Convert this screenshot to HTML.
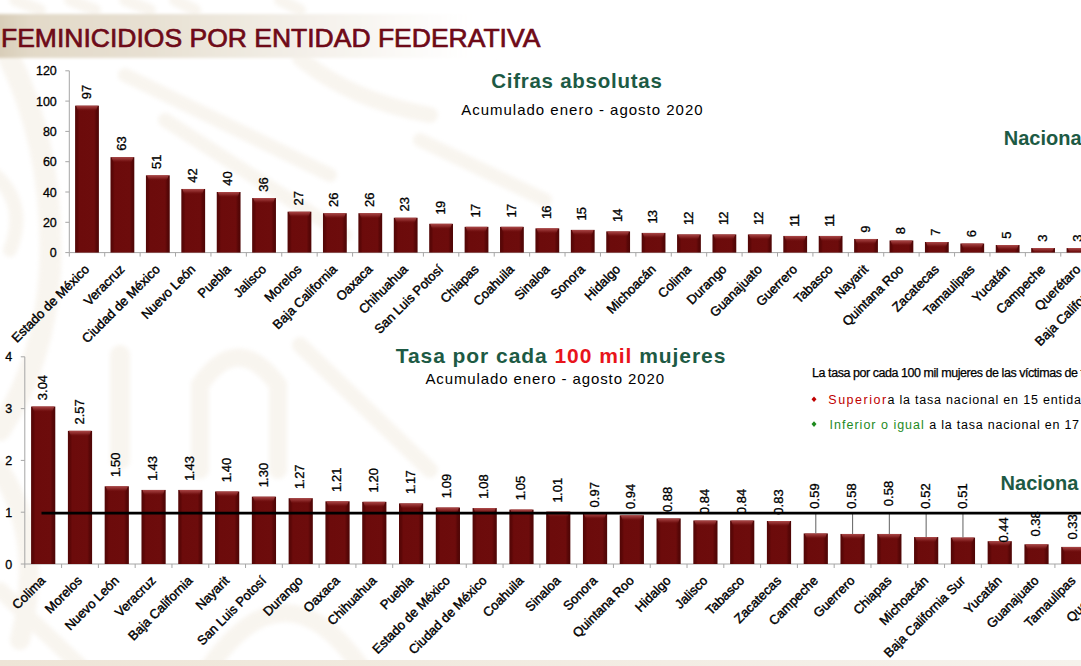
<!DOCTYPE html>
<html><head><meta charset="utf-8">
<style>
html,body{margin:0;padding:0;width:1081px;height:666px;overflow:hidden;background:#fff;}
body{position:relative;font-family:"Liberation Sans", sans-serif;}
#wrap{position:absolute;left:0;top:0;width:1081px;height:666px;overflow:hidden;}
.abs{position:absolute;white-space:nowrap;}
.v,.a{stroke:#000;stroke-width:0.3px;}
.c{stroke:#000;stroke-width:0.4px;}
.t{stroke:#6e0a18;stroke-width:0.7px;}
.lg{stroke:#000;stroke-width:0.25px;}
</style></head><body><div id="wrap">
<svg width="1081" height="666" viewBox="0 0 1081 666" style="position:absolute;left:0;top:0" font-family='"Liberation Sans", sans-serif'>
<defs>
<linearGradient id="bg" x1="0" y1="0" x2="1" y2="0">
<stop offset="0" stop-color="#520707"/><stop offset="0.1" stop-color="#5c0707"/><stop offset="0.18" stop-color="#6c0b0b"/><stop offset="0.8" stop-color="#6d0c0c"/><stop offset="0.9" stop-color="#580707"/><stop offset="1" stop-color="#4e0606"/>
</linearGradient>
<linearGradient id="bt" x1="0" y1="0" x2="0" y2="1">
<stop offset="0" stop-color="#b04c4c" stop-opacity="0.95"/><stop offset="0.5" stop-color="#983535" stop-opacity="0.6"/><stop offset="1" stop-color="#720f0f" stop-opacity="0"/>
</linearGradient>
<linearGradient id="tband" x1="0" y1="0" x2="1" y2="0">
<stop offset="0.009" stop-color="#d8cdb8"/><stop offset="0.037" stop-color="#e2d9c8"/><stop offset="0.147" stop-color="#e7e0d2"/><stop offset="0.284" stop-color="#f3efe8"/><stop offset="0.394" stop-color="#fcfbf9"/><stop offset="0.467" stop-color="#ffffff" stop-opacity="0"/>
</linearGradient>
<linearGradient id="bband" x1="0" y1="0" x2="1" y2="0">
<stop offset="0" stop-color="#eee5d7"/><stop offset="1" stop-color="#f6f2ec"/>
</linearGradient>
<filter id="blur2" x="-5%" y="-50%" width="110%" height="200%"><feGaussianBlur stdDeviation="1.8"/></filter>
<filter id="blur3" x="-20%" y="-20%" width="140%" height="140%"><feGaussianBlur stdDeviation="2"/></filter>
</defs>
<g id="wm" fill="none" stroke="#eee5d6" stroke-linecap="round" opacity="0.38" filter="url(#blur3)">
<path d="M8 55 Q55 150 50 270 Q45 360 0 430" stroke-width="22"/>
<path d="M-5 175 Q28 205 10 250" stroke-width="14"/>
<path d="M0 470 Q45 540 20 640" stroke-width="20"/>
<path d="M125 75 L330 175" stroke-width="14"/>
<path d="M165 120 L345 235" stroke-width="14"/>
<path d="M300 58 Q350 100 430 115" stroke-width="16"/>
<path d="M420 140 L545 200" stroke-width="14"/>
<path d="M120 460 L120 355" stroke-width="20"/>
<path d="M200 470 L200 385 Q238 330 278 385 L278 470" stroke-width="18"/>
<path d="M300 345 L430 470" stroke-width="16"/>
<path d="M210 666 Q285 560 360 666" stroke-width="18"/>
<path d="M0 590 L80 666" stroke-width="16"/>
<path d="M15 0 L40 10 M70 0 L95 10 M125 0 L150 10 M175 0 L195 10 M280 0 L300 10" stroke-width="12"/>
</g>
<rect x="-10" y="14" width="1091" height="44" fill="url(#tband)" filter="url(#blur2)"/>
<rect x="0" y="660" width="1081" height="6" fill="url(#bband)"/>
<text class="t" x="1" y="47" font-size="26.5" fill="#6e0a18">FEMINICIDIOS POR ENTIDAD FEDERATIVA</text>
<text x="576.9" y="87.5" font-size="20.5" font-weight="bold" fill="#1d5a44" text-anchor="middle" letter-spacing="0.75">Cifras absolutas</text>
<text x="582.4" y="114.5" font-size="15" fill="#000" text-anchor="middle" letter-spacing="1">Acumulado enero - agosto 2020</text>
<text x="1003.8" y="144.6" font-size="20" font-weight="bold" fill="#1d5a44">Naciona</text>
<text x="561" y="363.1" font-size="21" font-weight="bold" fill="#1d5a44" text-anchor="middle" letter-spacing="0.95">Tasa por cada <tspan fill="#e8141b">100 mil</tspan> mujeres</text>
<text x="545.2" y="384.2" font-size="15" fill="#000" text-anchor="middle" letter-spacing="0.9">Acumulado enero - agosto 2020</text>
<text x="1000.6" y="489.9" font-size="20" font-weight="bold" fill="#1d5a44">Naciona</text>
<text x="812.1" y="376.5" font-size="12.5" fill="#000" letter-spacing="-0.45" class="lg">La tasa por cada 100 mil mujeres de las víctimas de feminicidio es</text>
<path d="M814 396.5 L816.5 399.3 L814 402 L811.5 399.3Z" fill="#c00000"/>
<text x="828.3" y="404.2" font-size="12.5" fill="#000"><tspan fill="#c00000" letter-spacing="1.5">Superior</tspan><tspan x="887.4" letter-spacing="0.8">a la tasa nacional en 15 entidades</tspan></text>
<path d="M814 421.3 L816.5 424.1 L814 427 L811.5 424.1Z" fill="#1e8a1e"/>
<text x="829.6" y="428.8" font-size="12.5" fill="#000"><tspan fill="#1e8a1e" letter-spacing="1">Inferior o igual</tspan><tspan x="929.3" letter-spacing="0.77">a la tasa nacional en 17 entidades</tspan></text>
<line x1="69.3" y1="70.80" x2="69.3" y2="252.6" stroke="#a6a6a6" stroke-width="1"/>
<line x1="69.3" y1="252.6" x2="1081" y2="252.6" stroke="#a6a6a6" stroke-width="1"/>
<line x1="65.3" y1="252.60" x2="69.3" y2="252.60" stroke="#a6a6a6"/>
<text class="a" x="56.8" y="257.10" font-size="12.5" text-anchor="end">0</text>
<line x1="65.3" y1="222.30" x2="69.3" y2="222.30" stroke="#a6a6a6"/>
<text class="a" x="56.8" y="226.80" font-size="12.5" text-anchor="end">20</text>
<line x1="65.3" y1="192.00" x2="69.3" y2="192.00" stroke="#a6a6a6"/>
<text class="a" x="56.8" y="196.50" font-size="12.5" text-anchor="end">40</text>
<line x1="65.3" y1="161.70" x2="69.3" y2="161.70" stroke="#a6a6a6"/>
<text class="a" x="56.8" y="166.20" font-size="12.5" text-anchor="end">60</text>
<line x1="65.3" y1="131.40" x2="69.3" y2="131.40" stroke="#a6a6a6"/>
<text class="a" x="56.8" y="135.90" font-size="12.5" text-anchor="end">80</text>
<line x1="65.3" y1="101.10" x2="69.3" y2="101.10" stroke="#a6a6a6"/>
<text class="a" x="56.8" y="105.60" font-size="12.5" text-anchor="end">100</text>
<line x1="65.3" y1="70.80" x2="69.3" y2="70.80" stroke="#a6a6a6"/>
<text class="a" x="56.8" y="75.30" font-size="12.5" text-anchor="end">120</text>
<rect x="75.10" y="105.65" width="23.80" height="146.95" fill="url(#bg)"/><path d="M76.10 105.65 H97.90 L95.90 111.15 H78.10 Z" fill="url(#bt)"/>
<line x1="69.30" y1="252.6" x2="69.30" y2="256.6" stroke="#a6a6a6"/>
<text class="v" transform="translate(90.60,99.35) rotate(-90)" font-size="13" dx="0 0">97</text>
<text class="c" transform="translate(90.00,270.10) rotate(-45)" font-size="13" text-anchor="end">Estado de México</text>
<rect x="110.51" y="157.16" width="23.80" height="95.44" fill="url(#bg)"/><path d="M111.51 157.16 H133.31 L131.31 162.66 H113.51 Z" fill="url(#bt)"/>
<line x1="104.71" y1="252.6" x2="104.71" y2="256.6" stroke="#a6a6a6"/>
<text class="v" transform="translate(126.01,150.85) rotate(-90)" font-size="13" dx="0 0">63</text>
<text class="c" transform="translate(125.41,270.10) rotate(-45)" font-size="13" text-anchor="end">Veracruz</text>
<rect x="145.93" y="175.33" width="23.80" height="77.27" fill="url(#bg)"/><path d="M146.93 175.33 H168.73 L166.73 180.83 H148.93 Z" fill="url(#bt)"/>
<line x1="140.12" y1="252.6" x2="140.12" y2="256.6" stroke="#a6a6a6"/>
<text class="v" transform="translate(161.42,169.03) rotate(-90)" font-size="13" dx="0 0">51</text>
<text class="c" transform="translate(160.82,270.10) rotate(-45)" font-size="13" text-anchor="end">Ciudad de México</text>
<rect x="181.33" y="188.97" width="23.80" height="63.63" fill="url(#bg)"/><path d="M182.33 188.97 H204.13 L202.13 194.47 H184.33 Z" fill="url(#bt)"/>
<line x1="175.53" y1="252.6" x2="175.53" y2="256.6" stroke="#a6a6a6"/>
<text class="v" transform="translate(196.83,182.67) rotate(-90)" font-size="13" dx="0 0">42</text>
<text class="c" transform="translate(196.23,270.10) rotate(-45)" font-size="13" text-anchor="end">Nuevo León</text>
<rect x="216.75" y="192.00" width="23.80" height="60.60" fill="url(#bg)"/><path d="M217.75 192.00 H239.55 L237.55 197.50 H219.75 Z" fill="url(#bt)"/>
<line x1="210.94" y1="252.6" x2="210.94" y2="256.6" stroke="#a6a6a6"/>
<text class="v" transform="translate(232.24,185.70) rotate(-90)" font-size="13" dx="0 0">40</text>
<text class="c" transform="translate(231.64,270.10) rotate(-45)" font-size="13" text-anchor="end">Puebla</text>
<rect x="252.15" y="198.06" width="23.80" height="54.54" fill="url(#bg)"/><path d="M253.15 198.06 H274.95 L272.95 203.56 H255.15 Z" fill="url(#bt)"/>
<line x1="246.35" y1="252.6" x2="246.35" y2="256.6" stroke="#a6a6a6"/>
<text class="v" transform="translate(267.66,191.76) rotate(-90)" font-size="13" dx="0 0">36</text>
<text class="c" transform="translate(267.06,270.10) rotate(-45)" font-size="13" text-anchor="end">Jalisco</text>
<rect x="287.56" y="211.69" width="23.80" height="40.90" fill="url(#bg)"/><path d="M288.56 211.69 H310.37 L308.37 217.19 H290.56 Z" fill="url(#bt)"/>
<line x1="281.76" y1="252.6" x2="281.76" y2="256.6" stroke="#a6a6a6"/>
<text class="v" transform="translate(303.06,205.39) rotate(-90)" font-size="13" dx="0 0">27</text>
<text class="c" transform="translate(302.46,270.10) rotate(-45)" font-size="13" text-anchor="end">Morelos</text>
<rect x="322.97" y="213.21" width="23.80" height="39.39" fill="url(#bg)"/><path d="M323.97 213.21 H345.77 L343.77 218.71 H325.97 Z" fill="url(#bt)"/>
<line x1="317.17" y1="252.6" x2="317.17" y2="256.6" stroke="#a6a6a6"/>
<text class="v" transform="translate(338.48,206.91) rotate(-90)" font-size="13" dx="0 0">26</text>
<text class="c" transform="translate(337.88,270.10) rotate(-45)" font-size="13" text-anchor="end">Baja California</text>
<rect x="358.38" y="213.21" width="23.80" height="39.39" fill="url(#bg)"/><path d="M359.38 213.21 H381.19 L379.19 218.71 H361.38 Z" fill="url(#bt)"/>
<line x1="352.58" y1="252.6" x2="352.58" y2="256.6" stroke="#a6a6a6"/>
<text class="v" transform="translate(373.88,206.91) rotate(-90)" font-size="13" dx="0 0">26</text>
<text class="c" transform="translate(373.28,270.10) rotate(-45)" font-size="13" text-anchor="end">Oaxaca</text>
<rect x="393.79" y="217.75" width="23.80" height="34.84" fill="url(#bg)"/><path d="M394.79 217.75 H416.59 L414.59 223.25 H396.79 Z" fill="url(#bt)"/>
<line x1="387.99" y1="252.6" x2="387.99" y2="256.6" stroke="#a6a6a6"/>
<text class="v" transform="translate(409.30,211.45) rotate(-90)" font-size="13" dx="0 0">23</text>
<text class="c" transform="translate(408.69,270.10) rotate(-45)" font-size="13" text-anchor="end">Chihuahua</text>
<rect x="429.20" y="223.81" width="23.80" height="28.78" fill="url(#bg)"/><path d="M430.20 223.81 H452.00 L450.00 229.31 H432.20 Z" fill="url(#bt)"/>
<line x1="423.40" y1="252.6" x2="423.40" y2="256.6" stroke="#a6a6a6"/>
<text class="v" transform="translate(444.70,214.51) rotate(-90)" font-size="13" dx="0 -0.8">19</text>
<text class="c" transform="translate(444.10,270.10) rotate(-45)" font-size="13" text-anchor="end">San Luis Potosí</text>
<rect x="464.62" y="226.84" width="23.80" height="25.75" fill="url(#bg)"/><path d="M465.62 226.84 H487.42 L485.42 232.34 H467.62 Z" fill="url(#bt)"/>
<line x1="458.81" y1="252.6" x2="458.81" y2="256.6" stroke="#a6a6a6"/>
<text class="v" transform="translate(480.12,217.54) rotate(-90)" font-size="13" dx="0 -0.8">17</text>
<text class="c" transform="translate(479.51,270.10) rotate(-45)" font-size="13" text-anchor="end">Chiapas</text>
<rect x="500.02" y="226.84" width="23.80" height="25.75" fill="url(#bg)"/><path d="M501.02 226.84 H522.82 L520.82 232.34 H503.02 Z" fill="url(#bt)"/>
<line x1="494.22" y1="252.6" x2="494.22" y2="256.6" stroke="#a6a6a6"/>
<text class="v" transform="translate(515.52,217.54) rotate(-90)" font-size="13" dx="0 -0.8">17</text>
<text class="c" transform="translate(514.92,270.10) rotate(-45)" font-size="13" text-anchor="end">Coahuila</text>
<rect x="535.43" y="228.36" width="23.80" height="24.24" fill="url(#bg)"/><path d="M536.43 228.36 H558.23 L556.23 233.86 H538.43 Z" fill="url(#bt)"/>
<line x1="529.63" y1="252.6" x2="529.63" y2="256.6" stroke="#a6a6a6"/>
<text class="v" transform="translate(550.93,219.06) rotate(-90)" font-size="13" dx="0 -0.8">16</text>
<text class="c" transform="translate(550.33,270.10) rotate(-45)" font-size="13" text-anchor="end">Sinaloa</text>
<rect x="570.84" y="229.88" width="23.80" height="22.72" fill="url(#bg)"/><path d="M571.84 229.88 H593.64 L591.64 235.38 H573.84 Z" fill="url(#bt)"/>
<line x1="565.04" y1="252.6" x2="565.04" y2="256.6" stroke="#a6a6a6"/>
<text class="v" transform="translate(586.34,220.57) rotate(-90)" font-size="13" dx="0 -0.8">15</text>
<text class="c" transform="translate(585.74,270.10) rotate(-45)" font-size="13" text-anchor="end">Sonora</text>
<rect x="606.25" y="231.39" width="23.80" height="21.21" fill="url(#bg)"/><path d="M607.25 231.39 H629.05 L627.05 236.89 H609.25 Z" fill="url(#bt)"/>
<line x1="600.45" y1="252.6" x2="600.45" y2="256.6" stroke="#a6a6a6"/>
<text class="v" transform="translate(621.75,222.09) rotate(-90)" font-size="13" dx="0 -0.8">14</text>
<text class="c" transform="translate(621.15,270.10) rotate(-45)" font-size="13" text-anchor="end">Hidalgo</text>
<rect x="641.66" y="232.91" width="23.80" height="19.70" fill="url(#bg)"/><path d="M642.66 232.91 H664.46 L662.46 238.41 H644.66 Z" fill="url(#bt)"/>
<line x1="635.86" y1="252.6" x2="635.86" y2="256.6" stroke="#a6a6a6"/>
<text class="v" transform="translate(657.16,223.60) rotate(-90)" font-size="13" dx="0 -0.8">13</text>
<text class="c" transform="translate(656.56,270.10) rotate(-45)" font-size="13" text-anchor="end">Michoacán</text>
<rect x="677.07" y="234.42" width="23.80" height="18.18" fill="url(#bg)"/><path d="M678.07 234.42 H699.87 L697.87 239.92 H680.07 Z" fill="url(#bt)"/>
<line x1="671.27" y1="252.6" x2="671.27" y2="256.6" stroke="#a6a6a6"/>
<text class="v" transform="translate(692.57,225.12) rotate(-90)" font-size="13" dx="0 -0.8">12</text>
<text class="c" transform="translate(691.97,270.10) rotate(-45)" font-size="13" text-anchor="end">Colima</text>
<rect x="712.48" y="234.42" width="23.80" height="18.18" fill="url(#bg)"/><path d="M713.48 234.42 H735.28 L733.28 239.92 H715.48 Z" fill="url(#bt)"/>
<line x1="706.68" y1="252.6" x2="706.68" y2="256.6" stroke="#a6a6a6"/>
<text class="v" transform="translate(727.98,225.12) rotate(-90)" font-size="13" dx="0 -0.8">12</text>
<text class="c" transform="translate(727.38,270.10) rotate(-45)" font-size="13" text-anchor="end">Durango</text>
<rect x="747.89" y="234.42" width="23.80" height="18.18" fill="url(#bg)"/><path d="M748.89 234.42 H770.69 L768.69 239.92 H750.89 Z" fill="url(#bt)"/>
<line x1="742.09" y1="252.6" x2="742.09" y2="256.6" stroke="#a6a6a6"/>
<text class="v" transform="translate(763.39,225.12) rotate(-90)" font-size="13" dx="0 -0.8">12</text>
<text class="c" transform="translate(762.79,270.10) rotate(-45)" font-size="13" text-anchor="end">Guanajuato</text>
<rect x="783.30" y="235.94" width="23.80" height="16.66" fill="url(#bg)"/><path d="M784.30 235.94 H806.10 L804.10 241.44 H786.30 Z" fill="url(#bt)"/>
<line x1="777.50" y1="252.6" x2="777.50" y2="256.6" stroke="#a6a6a6"/>
<text class="v" transform="translate(798.80,226.63) rotate(-90)" font-size="13" dx="0 -0.8">11</text>
<text class="c" transform="translate(798.20,270.10) rotate(-45)" font-size="13" text-anchor="end">Guerrero</text>
<rect x="818.71" y="235.94" width="23.80" height="16.66" fill="url(#bg)"/><path d="M819.71 235.94 H841.51 L839.51 241.44 H821.71 Z" fill="url(#bt)"/>
<line x1="812.91" y1="252.6" x2="812.91" y2="256.6" stroke="#a6a6a6"/>
<text class="v" transform="translate(834.21,226.63) rotate(-90)" font-size="13" dx="0 -0.8">11</text>
<text class="c" transform="translate(833.61,270.10) rotate(-45)" font-size="13" text-anchor="end">Tabasco</text>
<rect x="854.12" y="238.97" width="23.80" height="13.63" fill="url(#bg)"/><path d="M855.12 238.97 H876.92 L874.92 244.47 H857.12 Z" fill="url(#bt)"/>
<line x1="848.32" y1="252.6" x2="848.32" y2="256.6" stroke="#a6a6a6"/>
<text class="v" transform="translate(869.62,232.66) rotate(-90)" font-size="13" dx="0">9</text>
<text class="c" transform="translate(869.02,270.10) rotate(-45)" font-size="13" text-anchor="end">Nayarit</text>
<rect x="889.53" y="240.48" width="23.80" height="12.12" fill="url(#bg)"/><path d="M890.53 240.48 H912.33 L910.33 245.98 H892.53 Z" fill="url(#bt)"/>
<line x1="883.73" y1="252.6" x2="883.73" y2="256.6" stroke="#a6a6a6"/>
<text class="v" transform="translate(905.03,234.18) rotate(-90)" font-size="13" dx="0">8</text>
<text class="c" transform="translate(904.43,270.10) rotate(-45)" font-size="13" text-anchor="end">Quintana Roo</text>
<rect x="924.94" y="242.00" width="23.80" height="10.60" fill="url(#bg)"/><path d="M925.94 242.00 H947.74 L945.74 247.50 H927.94 Z" fill="url(#bt)"/>
<line x1="919.14" y1="252.6" x2="919.14" y2="256.6" stroke="#a6a6a6"/>
<text class="v" transform="translate(940.44,235.69) rotate(-90)" font-size="13" dx="0">7</text>
<text class="c" transform="translate(939.84,270.10) rotate(-45)" font-size="13" text-anchor="end">Zacatecas</text>
<rect x="960.35" y="243.51" width="23.80" height="9.09" fill="url(#bg)"/><path d="M961.35 243.51 H983.15 L981.15 249.01 H963.35 Z" fill="url(#bt)"/>
<line x1="954.55" y1="252.6" x2="954.55" y2="256.6" stroke="#a6a6a6"/>
<text class="v" transform="translate(975.85,237.21) rotate(-90)" font-size="13" dx="0">6</text>
<text class="c" transform="translate(975.25,270.10) rotate(-45)" font-size="13" text-anchor="end">Tamaulipas</text>
<rect x="995.76" y="245.03" width="23.80" height="7.57" fill="url(#bg)"/><path d="M996.76 245.03 H1018.56 L1016.56 250.53 H998.76 Z" fill="url(#bt)"/>
<line x1="989.96" y1="252.6" x2="989.96" y2="256.6" stroke="#a6a6a6"/>
<text class="v" transform="translate(1011.26,238.72) rotate(-90)" font-size="13" dx="0">5</text>
<text class="c" transform="translate(1010.66,270.10) rotate(-45)" font-size="13" text-anchor="end">Yucatán</text>
<rect x="1031.17" y="248.06" width="23.80" height="4.54" fill="url(#bg)"/><path d="M1032.17 248.06 H1053.97 L1051.97 252.60 H1034.17 Z" fill="url(#bt)"/>
<line x1="1025.37" y1="252.6" x2="1025.37" y2="256.6" stroke="#a6a6a6"/>
<text class="v" transform="translate(1046.67,241.75) rotate(-90)" font-size="13" dx="0">3</text>
<text class="c" transform="translate(1046.07,270.10) rotate(-45)" font-size="13" text-anchor="end">Campeche</text>
<rect x="1066.59" y="248.06" width="23.80" height="4.54" fill="url(#bg)"/><path d="M1067.59 248.06 H1089.38 L1087.38 252.60 H1069.59 Z" fill="url(#bt)"/>
<line x1="1060.78" y1="252.6" x2="1060.78" y2="256.6" stroke="#a6a6a6"/>
<text class="v" transform="translate(1082.08,241.75) rotate(-90)" font-size="13" dx="0">3</text>
<text class="c" transform="translate(1081.48,270.10) rotate(-45)" font-size="13" text-anchor="end">Querétaro</text>
<rect x="1101.99" y="249.57" width="23.80" height="3.03" fill="url(#bg)"/><path d="M1102.99 249.57 H1124.79 L1122.79 252.60 H1104.99 Z" fill="url(#bt)"/>
<line x1="1096.19" y1="252.6" x2="1096.19" y2="256.6" stroke="#a6a6a6"/>
<text class="v" transform="translate(1117.49,243.27) rotate(-90)" font-size="13" dx="0">2</text>
<text class="c" transform="translate(1116.89,270.10) rotate(-45)" font-size="13" text-anchor="end">Baja California Sur</text>
<line x1="24.8" y1="356.80" x2="24.8" y2="564.0" stroke="#a6a6a6" stroke-width="1"/>
<line x1="24.8" y1="564.0" x2="1081" y2="564.0" stroke="#a6a6a6" stroke-width="1"/>
<line x1="20.8" y1="564.00" x2="24.8" y2="564.00" stroke="#a6a6a6"/>
<text class="a" x="12.3" y="568.50" font-size="12.5" text-anchor="end">0</text>
<line x1="20.8" y1="512.20" x2="24.8" y2="512.20" stroke="#a6a6a6"/>
<text class="a" x="12.3" y="516.70" font-size="12.5" text-anchor="end">1</text>
<line x1="20.8" y1="460.40" x2="24.8" y2="460.40" stroke="#a6a6a6"/>
<text class="a" x="12.3" y="464.90" font-size="12.5" text-anchor="end">2</text>
<line x1="20.8" y1="408.60" x2="24.8" y2="408.60" stroke="#a6a6a6"/>
<text class="a" x="12.3" y="413.10" font-size="12.5" text-anchor="end">3</text>
<line x1="20.8" y1="356.80" x2="24.8" y2="356.80" stroke="#a6a6a6"/>
<text class="a" x="12.3" y="361.30" font-size="12.5" text-anchor="end">4</text>
<rect x="31.09" y="406.53" width="24.20" height="157.47" fill="url(#bg)"/><path d="M32.09 406.53 H54.30 L52.30 412.03 H34.09 Z" fill="url(#bt)"/>
<line x1="24.80" y1="564.0" x2="24.80" y2="568.0" stroke="#a6a6a6"/>
<rect x="67.89" y="430.87" width="24.20" height="133.13" fill="url(#bg)"/><path d="M68.89 430.87 H91.09 L89.09 436.37 H70.89 Z" fill="url(#bt)"/>
<line x1="61.59" y1="564.0" x2="61.59" y2="568.0" stroke="#a6a6a6"/>
<rect x="104.67" y="486.30" width="24.20" height="77.70" fill="url(#bg)"/><path d="M105.67 486.30 H127.88 L125.88 491.80 H107.67 Z" fill="url(#bt)"/>
<line x1="98.38" y1="564.0" x2="98.38" y2="568.0" stroke="#a6a6a6"/>
<rect x="141.47" y="489.93" width="24.20" height="74.07" fill="url(#bg)"/><path d="M142.47 489.93 H164.66 L162.66 495.43 H144.47 Z" fill="url(#bt)"/>
<line x1="135.17" y1="564.0" x2="135.17" y2="568.0" stroke="#a6a6a6"/>
<rect x="178.25" y="489.93" width="24.20" height="74.07" fill="url(#bg)"/><path d="M179.25 489.93 H201.45 L199.45 495.43 H181.25 Z" fill="url(#bt)"/>
<line x1="171.96" y1="564.0" x2="171.96" y2="568.0" stroke="#a6a6a6"/>
<rect x="215.04" y="491.48" width="24.20" height="72.52" fill="url(#bg)"/><path d="M216.04 491.48 H238.24 L236.24 496.98 H218.04 Z" fill="url(#bt)"/>
<line x1="208.75" y1="564.0" x2="208.75" y2="568.0" stroke="#a6a6a6"/>
<rect x="251.84" y="496.66" width="24.20" height="67.34" fill="url(#bg)"/><path d="M252.84 496.66 H275.04 L273.04 502.16 H254.84 Z" fill="url(#bt)"/>
<line x1="245.54" y1="564.0" x2="245.54" y2="568.0" stroke="#a6a6a6"/>
<rect x="288.62" y="498.21" width="24.20" height="65.79" fill="url(#bg)"/><path d="M289.62 498.21 H311.82 L309.82 503.71 H291.62 Z" fill="url(#bt)"/>
<line x1="282.33" y1="564.0" x2="282.33" y2="568.0" stroke="#a6a6a6"/>
<rect x="325.42" y="501.32" width="24.20" height="62.68" fill="url(#bg)"/><path d="M326.42 501.32 H348.62 L346.62 506.82 H328.42 Z" fill="url(#bt)"/>
<line x1="319.12" y1="564.0" x2="319.12" y2="568.0" stroke="#a6a6a6"/>
<rect x="362.21" y="501.84" width="24.20" height="62.16" fill="url(#bg)"/><path d="M363.21 501.84 H385.41 L383.41 507.34 H365.21 Z" fill="url(#bt)"/>
<line x1="355.91" y1="564.0" x2="355.91" y2="568.0" stroke="#a6a6a6"/>
<rect x="399.00" y="503.39" width="24.20" height="60.61" fill="url(#bg)"/><path d="M400.00 503.39 H422.19 L420.19 508.89 H402.00 Z" fill="url(#bt)"/>
<line x1="392.70" y1="564.0" x2="392.70" y2="568.0" stroke="#a6a6a6"/>
<rect x="435.79" y="507.54" width="24.20" height="56.46" fill="url(#bg)"/><path d="M436.79 507.54 H458.99 L456.99 513.04 H438.79 Z" fill="url(#bt)"/>
<line x1="429.49" y1="564.0" x2="429.49" y2="568.0" stroke="#a6a6a6"/>
<rect x="472.58" y="508.06" width="24.20" height="55.94" fill="url(#bg)"/><path d="M473.58 508.06 H495.78 L493.78 513.56 H475.58 Z" fill="url(#bt)"/>
<line x1="466.28" y1="564.0" x2="466.28" y2="568.0" stroke="#a6a6a6"/>
<rect x="509.37" y="509.61" width="24.20" height="54.39" fill="url(#bg)"/><path d="M510.37 509.61 H532.57 L530.57 515.11 H512.37 Z" fill="url(#bt)"/>
<line x1="503.07" y1="564.0" x2="503.07" y2="568.0" stroke="#a6a6a6"/>
<rect x="546.15" y="511.68" width="24.20" height="52.32" fill="url(#bg)"/><path d="M547.15 511.68 H569.35 L567.35 517.18 H549.15 Z" fill="url(#bt)"/>
<line x1="539.86" y1="564.0" x2="539.86" y2="568.0" stroke="#a6a6a6"/>
<rect x="582.94" y="513.75" width="24.20" height="50.25" fill="url(#bg)"/><path d="M583.94 513.75 H606.14 L604.14 519.25 H585.94 Z" fill="url(#bt)"/>
<line x1="576.65" y1="564.0" x2="576.65" y2="568.0" stroke="#a6a6a6"/>
<rect x="619.73" y="515.31" width="24.20" height="48.69" fill="url(#bg)"/><path d="M620.73 515.31 H642.93 L640.93 520.81 H622.73 Z" fill="url(#bt)"/>
<line x1="613.44" y1="564.0" x2="613.44" y2="568.0" stroke="#a6a6a6"/>
<rect x="656.52" y="518.42" width="24.20" height="45.58" fill="url(#bg)"/><path d="M657.52 518.42 H679.72 L677.72 523.92 H659.52 Z" fill="url(#bt)"/>
<line x1="650.23" y1="564.0" x2="650.23" y2="568.0" stroke="#a6a6a6"/>
<rect x="693.31" y="520.49" width="24.20" height="43.51" fill="url(#bg)"/><path d="M694.31 520.49 H716.51 L714.51 525.99 H696.31 Z" fill="url(#bt)"/>
<line x1="687.02" y1="564.0" x2="687.02" y2="568.0" stroke="#a6a6a6"/>
<rect x="730.10" y="520.49" width="24.20" height="43.51" fill="url(#bg)"/><path d="M731.10 520.49 H753.30 L751.30 525.99 H733.10 Z" fill="url(#bt)"/>
<line x1="723.81" y1="564.0" x2="723.81" y2="568.0" stroke="#a6a6a6"/>
<rect x="766.89" y="521.01" width="24.20" height="42.99" fill="url(#bg)"/><path d="M767.89 521.01 H790.09 L788.09 526.51 H769.89 Z" fill="url(#bt)"/>
<line x1="760.60" y1="564.0" x2="760.60" y2="568.0" stroke="#a6a6a6"/>
<rect x="803.68" y="533.44" width="24.20" height="30.56" fill="url(#bg)"/><path d="M804.68 533.44 H826.88 L824.88 538.94 H806.68 Z" fill="url(#bt)"/>
<line x1="797.39" y1="564.0" x2="797.39" y2="568.0" stroke="#a6a6a6"/>
<line x1="815.78" y1="512.20" x2="815.78" y2="533.44" stroke="#6f6f6f" stroke-width="1.1"/>
<rect x="840.47" y="533.96" width="24.20" height="30.04" fill="url(#bg)"/><path d="M841.47 533.96 H863.67 L861.67 539.46 H843.47 Z" fill="url(#bt)"/>
<line x1="834.18" y1="564.0" x2="834.18" y2="568.0" stroke="#a6a6a6"/>
<line x1="852.57" y1="512.20" x2="852.57" y2="533.96" stroke="#6f6f6f" stroke-width="1.1"/>
<rect x="877.26" y="533.96" width="24.20" height="30.04" fill="url(#bg)"/><path d="M878.26 533.96 H900.46 L898.46 539.46 H880.26 Z" fill="url(#bt)"/>
<line x1="870.97" y1="564.0" x2="870.97" y2="568.0" stroke="#a6a6a6"/>
<line x1="889.36" y1="512.20" x2="889.36" y2="533.96" stroke="#6f6f6f" stroke-width="1.1"/>
<rect x="914.05" y="537.06" width="24.20" height="26.94" fill="url(#bg)"/><path d="M915.05 537.06 H937.25 L935.25 542.56 H917.05 Z" fill="url(#bt)"/>
<line x1="907.76" y1="564.0" x2="907.76" y2="568.0" stroke="#a6a6a6"/>
<line x1="926.15" y1="512.20" x2="926.15" y2="537.06" stroke="#6f6f6f" stroke-width="1.1"/>
<rect x="950.84" y="537.58" width="24.20" height="26.42" fill="url(#bg)"/><path d="M951.84 537.58 H974.04 L972.04 543.08 H953.84 Z" fill="url(#bt)"/>
<line x1="944.55" y1="564.0" x2="944.55" y2="568.0" stroke="#a6a6a6"/>
<line x1="962.94" y1="512.20" x2="962.94" y2="537.58" stroke="#6f6f6f" stroke-width="1.1"/>
<rect x="987.63" y="541.21" width="24.20" height="22.79" fill="url(#bg)"/><path d="M988.63 541.21 H1010.83 L1008.83 546.71 H990.63 Z" fill="url(#bt)"/>
<line x1="981.34" y1="564.0" x2="981.34" y2="568.0" stroke="#a6a6a6"/>
<rect x="1024.42" y="544.32" width="24.20" height="19.68" fill="url(#bg)"/><path d="M1025.42 544.32 H1047.62 L1045.62 549.82 H1027.42 Z" fill="url(#bt)"/>
<line x1="1018.13" y1="564.0" x2="1018.13" y2="568.0" stroke="#a6a6a6"/>
<rect x="1061.21" y="546.91" width="24.20" height="17.09" fill="url(#bg)"/><path d="M1062.21 546.91 H1084.41 L1082.41 552.41 H1064.21 Z" fill="url(#bt)"/>
<line x1="1054.92" y1="564.0" x2="1054.92" y2="568.0" stroke="#a6a6a6"/>
<rect x="1098.01" y="548.46" width="24.20" height="15.54" fill="url(#bg)"/><path d="M1099.01 548.46 H1121.21 L1119.21 553.96 H1101.01 Z" fill="url(#bt)"/>
<line x1="1091.71" y1="564.0" x2="1091.71" y2="568.0" stroke="#a6a6a6"/>
<text class="v" transform="translate(46.80,400.23) rotate(-90)" font-size="13" dx="0 0 0 0">3.04</text>
<text class="c" transform="translate(46.20,581.50) rotate(-45)" font-size="13" text-anchor="end">Colima</text>
<text class="v" transform="translate(83.58,424.57) rotate(-90)" font-size="13" dx="0 0 0 0">2.57</text>
<text class="c" transform="translate(82.98,581.50) rotate(-45)" font-size="13" text-anchor="end">Morelos</text>
<text class="v" transform="translate(120.37,477.00) rotate(-90)" font-size="13" dx="0 -0.8 0 0">1.50</text>
<text class="c" transform="translate(119.77,581.50) rotate(-45)" font-size="13" text-anchor="end">Nuevo León</text>
<text class="v" transform="translate(157.16,480.63) rotate(-90)" font-size="13" dx="0 -0.8 0 0">1.43</text>
<text class="c" transform="translate(156.56,581.50) rotate(-45)" font-size="13" text-anchor="end">Veracruz</text>
<text class="v" transform="translate(193.96,480.63) rotate(-90)" font-size="13" dx="0 -0.8 0 0">1.43</text>
<text class="c" transform="translate(193.36,581.50) rotate(-45)" font-size="13" text-anchor="end">Baja California</text>
<text class="v" transform="translate(230.75,482.18) rotate(-90)" font-size="13" dx="0 -0.8 0 0">1.40</text>
<text class="c" transform="translate(230.15,581.50) rotate(-45)" font-size="13" text-anchor="end">Nayarit</text>
<text class="v" transform="translate(267.54,487.36) rotate(-90)" font-size="13" dx="0 -0.8 0 0">1.30</text>
<text class="c" transform="translate(266.94,581.50) rotate(-45)" font-size="13" text-anchor="end">San Luis Potosí</text>
<text class="v" transform="translate(304.33,488.91) rotate(-90)" font-size="13" dx="0 -0.8 0 0">1.27</text>
<text class="c" transform="translate(303.73,581.50) rotate(-45)" font-size="13" text-anchor="end">Durango</text>
<text class="v" transform="translate(341.12,492.02) rotate(-90)" font-size="13" dx="0 -0.8 0 0">1.21</text>
<text class="c" transform="translate(340.51,581.50) rotate(-45)" font-size="13" text-anchor="end">Oaxaca</text>
<text class="v" transform="translate(377.91,492.54) rotate(-90)" font-size="13" dx="0 -0.8 0 0">1.20</text>
<text class="c" transform="translate(377.31,581.50) rotate(-45)" font-size="13" text-anchor="end">Chihuahua</text>
<text class="v" transform="translate(414.70,494.09) rotate(-90)" font-size="13" dx="0 -0.8 0 -0.8">1.17</text>
<text class="c" transform="translate(414.10,581.50) rotate(-45)" font-size="13" text-anchor="end">Puebla</text>
<text class="v" transform="translate(451.49,498.24) rotate(-90)" font-size="13" dx="0 -0.8 0 0">1.09</text>
<text class="c" transform="translate(450.88,581.50) rotate(-45)" font-size="13" text-anchor="end">Estado de México</text>
<text class="v" transform="translate(488.28,498.76) rotate(-90)" font-size="13" dx="0 -0.8 0 0">1.08</text>
<text class="c" transform="translate(487.68,581.50) rotate(-45)" font-size="13" text-anchor="end">Ciudad de México</text>
<text class="v" transform="translate(525.06,500.31) rotate(-90)" font-size="13" dx="0 -0.8 0 0">1.05</text>
<text class="c" transform="translate(524.46,581.50) rotate(-45)" font-size="13" text-anchor="end">Coahuila</text>
<text class="v" transform="translate(561.86,502.38) rotate(-90)" font-size="13" dx="0 -0.8 0 0">1.01</text>
<text class="c" transform="translate(561.25,581.50) rotate(-45)" font-size="13" text-anchor="end">Sinaloa</text>
<text class="v" transform="translate(598.64,507.45) rotate(-90)" font-size="13" dx="0 0 0 0">0.97</text>
<text class="c" transform="translate(598.04,581.50) rotate(-45)" font-size="13" text-anchor="end">Sonora</text>
<text class="v" transform="translate(635.43,509.01) rotate(-90)" font-size="13" dx="0 0 0 0">0.94</text>
<text class="c" transform="translate(634.83,581.50) rotate(-45)" font-size="13" text-anchor="end">Quintana Roo</text>
<text class="v" transform="translate(672.22,512.12) rotate(-90)" font-size="13" dx="0 0 0 0">0.88</text>
<text class="c" transform="translate(671.62,581.50) rotate(-45)" font-size="13" text-anchor="end">Hidalgo</text>
<text class="v" transform="translate(709.01,514.19) rotate(-90)" font-size="13" dx="0 0 0 0">0.84</text>
<text class="c" transform="translate(708.41,581.50) rotate(-45)" font-size="13" text-anchor="end">Jalisco</text>
<text class="v" transform="translate(745.80,514.19) rotate(-90)" font-size="13" dx="0 0 0 0">0.84</text>
<text class="c" transform="translate(745.20,581.50) rotate(-45)" font-size="13" text-anchor="end">Tabasco</text>
<text class="v" transform="translate(782.59,514.71) rotate(-90)" font-size="13" dx="0 0 0 0">0.83</text>
<text class="c" transform="translate(781.99,581.50) rotate(-45)" font-size="13" text-anchor="end">Zacatecas</text>
<text class="v" transform="translate(819.38,508.70) rotate(-90)" font-size="13" dx="0 0 0 0">0.59</text>
<text class="c" transform="translate(818.78,581.50) rotate(-45)" font-size="13" text-anchor="end">Campeche</text>
<text class="v" transform="translate(856.17,508.70) rotate(-90)" font-size="13" dx="0 0 0 0">0.58</text>
<text class="c" transform="translate(855.57,581.50) rotate(-45)" font-size="13" text-anchor="end">Guerrero</text>
<text class="v" transform="translate(892.96,506.20) rotate(-90)" font-size="13" dx="0 0 0 0">0.58</text>
<text class="c" transform="translate(892.36,581.50) rotate(-45)" font-size="13" text-anchor="end">Chiapas</text>
<text class="v" transform="translate(929.75,508.70) rotate(-90)" font-size="13" dx="0 0 0 0">0.52</text>
<text class="c" transform="translate(929.15,581.50) rotate(-45)" font-size="13" text-anchor="end">Michoacán</text>
<text class="v" transform="translate(966.54,508.70) rotate(-90)" font-size="13" dx="0 0 0 0">0.51</text>
<text class="c" transform="translate(965.94,581.50) rotate(-45)" font-size="13" text-anchor="end">Baja California Sur</text>
<text class="v" transform="translate(1007.83,542.50) rotate(-90)" font-size="13" dx="0 0 0 0">0.44</text>
<text class="c" transform="translate(1002.73,581.50) rotate(-45)" font-size="13" text-anchor="end">Yucatán</text>
<text class="v" transform="translate(1040.12,536.50) rotate(-90)" font-size="13" dx="0 0 0 0">0.38</text>
<text class="c" transform="translate(1039.53,581.50) rotate(-45)" font-size="13" text-anchor="end">Guanajuato</text>
<text class="v" transform="translate(1076.91,539.50) rotate(-90)" font-size="13" dx="0 0 0 0">0.33</text>
<text class="c" transform="translate(1076.31,581.50) rotate(-45)" font-size="13" text-anchor="end">Tamaulipas</text>
<text class="v" transform="translate(1113.70,542.16) rotate(-90)" font-size="13" dx="0 0 0 0">0.30</text>
<text class="c" transform="translate(1113.11,581.50) rotate(-45)" font-size="13" text-anchor="end">Querétaro</text>
<line x1="41.5" y1="513.10" x2="1081" y2="513.10" stroke="#000" stroke-width="2.8"/>
</svg>
</div></body></html>
